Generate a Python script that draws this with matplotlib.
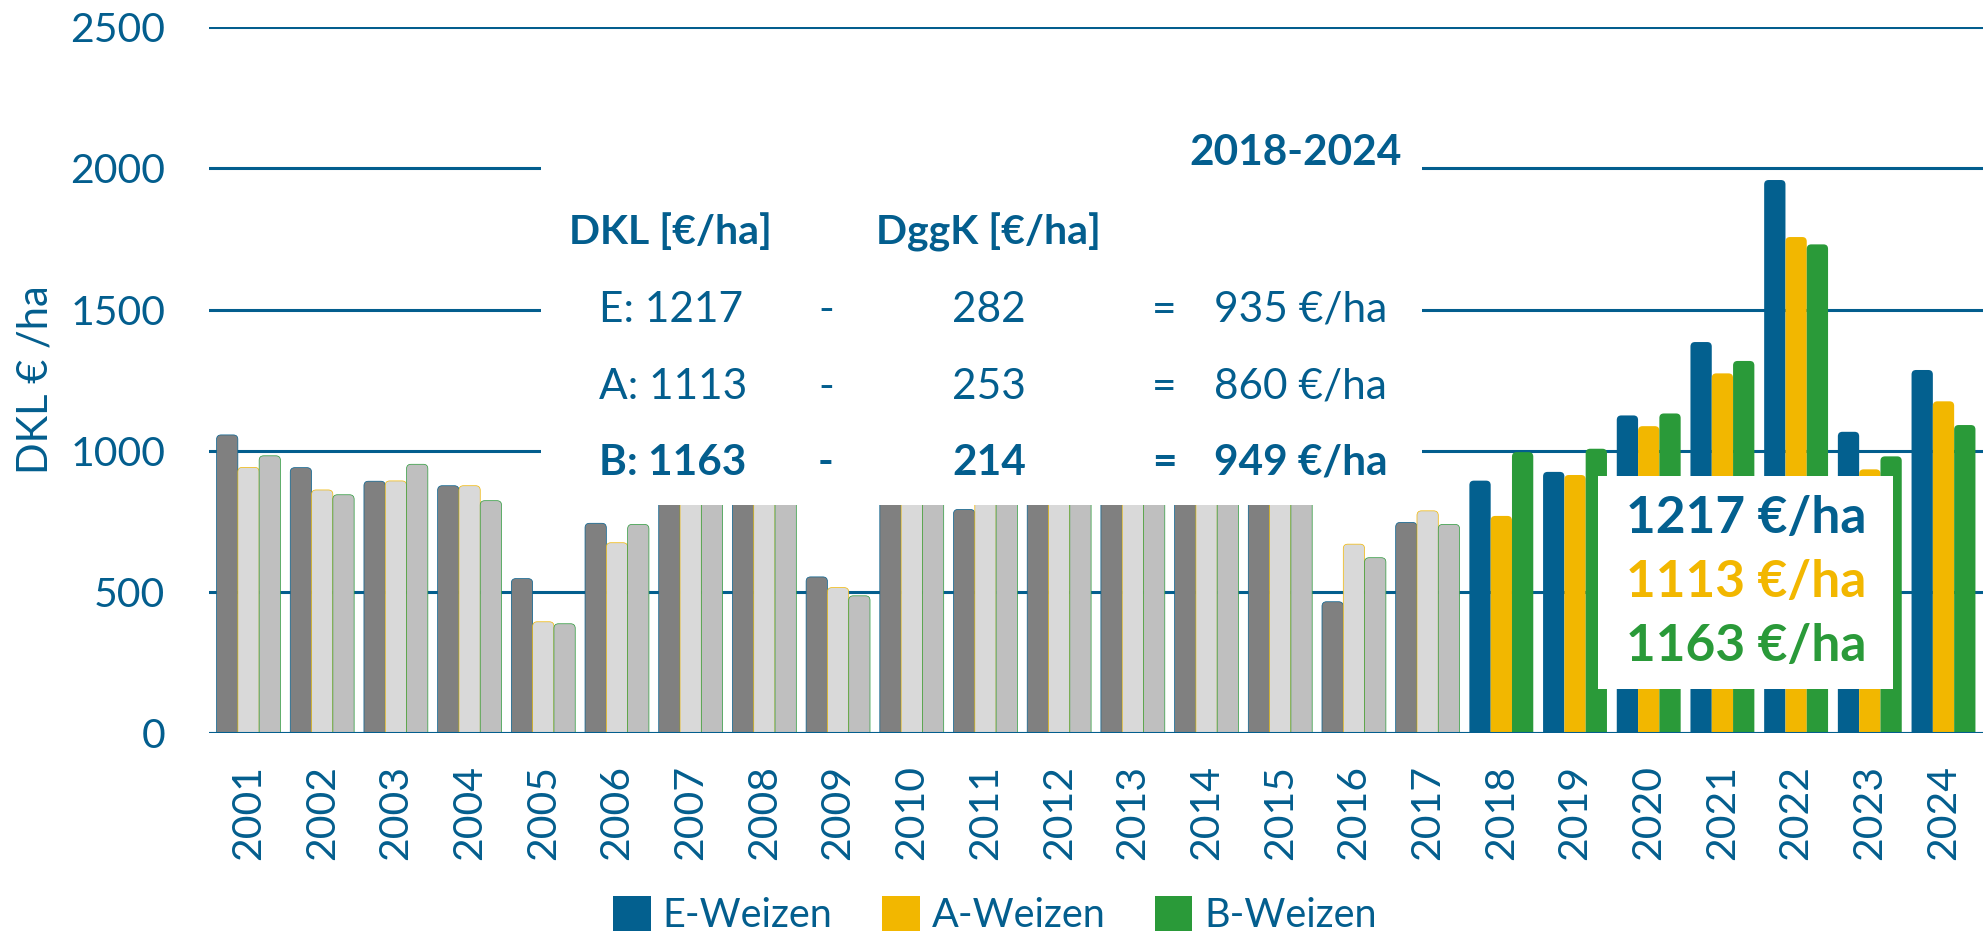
import matplotlib
matplotlib.use("Agg")
import matplotlib.pyplot as plt
from matplotlib.patches import Rectangle, Patch, FancyBboxPatch

plt.rcParams['font.family'] = ['Lato', 'DejaVu Sans']

# ---------------- data ----------------
years = [str(y) for y in range(2001, 2025)]
e_weizen = [1056, 940, 892, 876, 547, 743, 1250, 1150, 553, 1000, 792, 1300,
            1050, 950, 880, 465, 746, 894, 925, 1125, 1385, 1959, 1067, 1286]
a_weizen = [941, 861, 893, 876, 394, 674, 1200, 1100, 515, 980, 1050, 1250,
            1000, 920, 860, 669, 787, 769, 914, 1087, 1274, 1757, 934, 1175]
b_weizen = [982, 844, 952, 823, 387, 739, 1220, 1120, 486, 990, 1080, 1270,
            1020, 930, 870, 621, 739, 995, 1007, 1132, 1318, 1731, 980, 1091]
series_names = ["E-Weizen", "A-Weizen", "B-Weizen"]
y_ticks = [0, 500, 1000, 1500, 2000, 2500]
first_colored_year = "2018"

table_header = ["DKL [€/ha]", "DggK [€/ha]"]
table_rows = [("E: 1217", "282", "935 €/ha"),
              ("A: 1113", "253", "860 €/ha"),
              ("B: 1163", "214", "949 €/ha")]
period_label = "2018-2024"
avg_labels = ["1217 €/ha", "1113 €/ha", "1163 €/ha"]

# ---------------- style ----------------
BLUE = '#035E8E'
colors = ['#03608F', '#F2B700', '#2A9A39']
greys = ['#808080', '#D9D9D9', '#BFBFBF']

W, H = 1986, 935
fig = plt.figure(figsize=(W / 100, H / 100), dpi=100)
ax = fig.add_axes([209 / W, 1 - 733 / H, (1983 - 209) / W, (733 - 27.3) / H])
ax.set_xlim(-0.536, len(years) - 1 + 0.536)
ax.set_ylim(0, 2500)

bw = 0.289
cut = years.index(first_colored_year)
xs = list(range(len(years)))
# aspect between y-data per pixel and x-data per pixel (for round corners)
px_x = (ax.get_xlim()[1] - ax.get_xlim()[0]) / (1983 - 209)
px_y = 2500 / (733 - 27.3)
asp = px_y / px_x
rad = 4.5 * px_x

def round_bars(container, fc, ec, lw):
    for r in list(container.patches):
        x, y = r.get_x(), r.get_y()
        w, h = r.get_width(), r.get_height()
        fb = FancyBboxPatch((x, y - 4 * px_y), w, h + 4 * px_y,
                            boxstyle=f"round,pad=0,rounding_size={rad}",
                            mutation_aspect=asp, facecolor=fc,
                            edgecolor=ec, linewidth=lw, zorder=2)
        ax.add_patch(fb)
        r.remove()

for k, vals in enumerate([e_weizen, a_weizen, b_weizen]):
    off = (k - 1) * bw
    c1 = ax.bar([x + off for x in xs[:cut]], vals[:cut], width=bw)
    round_bars(c1, greys[k], colors[k], 0.5)
    c2 = ax.bar([x + off for x in xs[cut:]], vals[cut:], width=bw)
    round_bars(c2, colors[k], 'none', 0)

ax.set_yticks(y_ticks)
ax.set_xticks(xs)
ax.set_xticklabels(years, rotation=90)
ax.yaxis.grid(True, color=BLUE, linewidth=2.2, zorder=1)
ax.set_axisbelow(True)
ax.axhline(0, color=BLUE, linewidth=2.2, zorder=3)
for s in ax.spines.values():
    s.set_visible(False)
ax.tick_params(axis='y', length=0, pad=31.5, labelsize=29.5, labelcolor=BLUE)
ax.tick_params(axis='x', length=0, pad=23, labelsize=29.5, labelcolor=BLUE)

fig.text(36 / W, 1 - 380 / H, "DKL € /ha", rotation=90, ha='center',
         va='center', fontsize=30, color=BLUE)

# pixel -> data helpers for the overlay boxes
def dx(px):
    return (px - 248.5) / 73.7

def dy(py):
    return (733 - py) / 0.2823

ax.add_patch(Rectangle((dx(541), dy(504.7)), dx(1422) - dx(541),
                       dy(110) - dy(504.7), facecolor='white',
                       edgecolor='none', zorder=4))
ax.add_patch(Rectangle((dx(1598), dy(689)), dx(1893) - dx(1598),
                       dy(476) - dy(689), facecolor='white',
                       edgecolor='none', zorder=4))

def ftext(px, py, s, **kw):
    fig.text(px / W, 1 - py / H, s, color=kw.pop('color', BLUE),
             va='center', zorder=6, **kw)

ftext(1296, 153, period_label, ha='center', fontsize=30.5, fontweight='bold')
ftext(670, 232, table_header[0], ha='center', fontsize=29.5, fontweight='bold')
ftext(988, 232, table_header[1], ha='center', fontsize=29.5, fontweight='bold')
for i, (a, b, c) in enumerate(table_rows):
    yy = [310, 387, 463][i]
    fw = 'bold' if i == 2 else 'normal'
    ftext(599, yy, a, ha='left', fontsize=30.5, fontweight=fw)
    ftext(826, yy, "-", ha='center', fontsize=30.5, fontweight=fw)
    ftext(989, yy, b, ha='center', fontsize=30.5, fontweight=fw)
    ftext(1164, yy, "=", ha='center', fontsize=30.5, fontweight=fw)
    ftext(1214, yy, c, ha='left', fontsize=30.5, fontweight=fw)

for i, lab in enumerate(avg_labels):
    ftext(1746, [519, 583, 647][i], lab, ha='center', fontsize=37,
          fontweight='bold', color=colors[i])

handles = [Patch(facecolor=c, edgecolor='none') for c in colors]
leg = fig.legend(handles, series_names, loc='center', ncol=3, frameon=False,
                 bbox_to_anchor=(995 / W, 1 - 915 / H), fontsize=28.5,
                 handlelength=0.95, handleheight=1.0, handletextpad=0.3,
                 columnspacing=1.25, labelcolor=BLUE)

fig.savefig("out.png", dpi=100)
